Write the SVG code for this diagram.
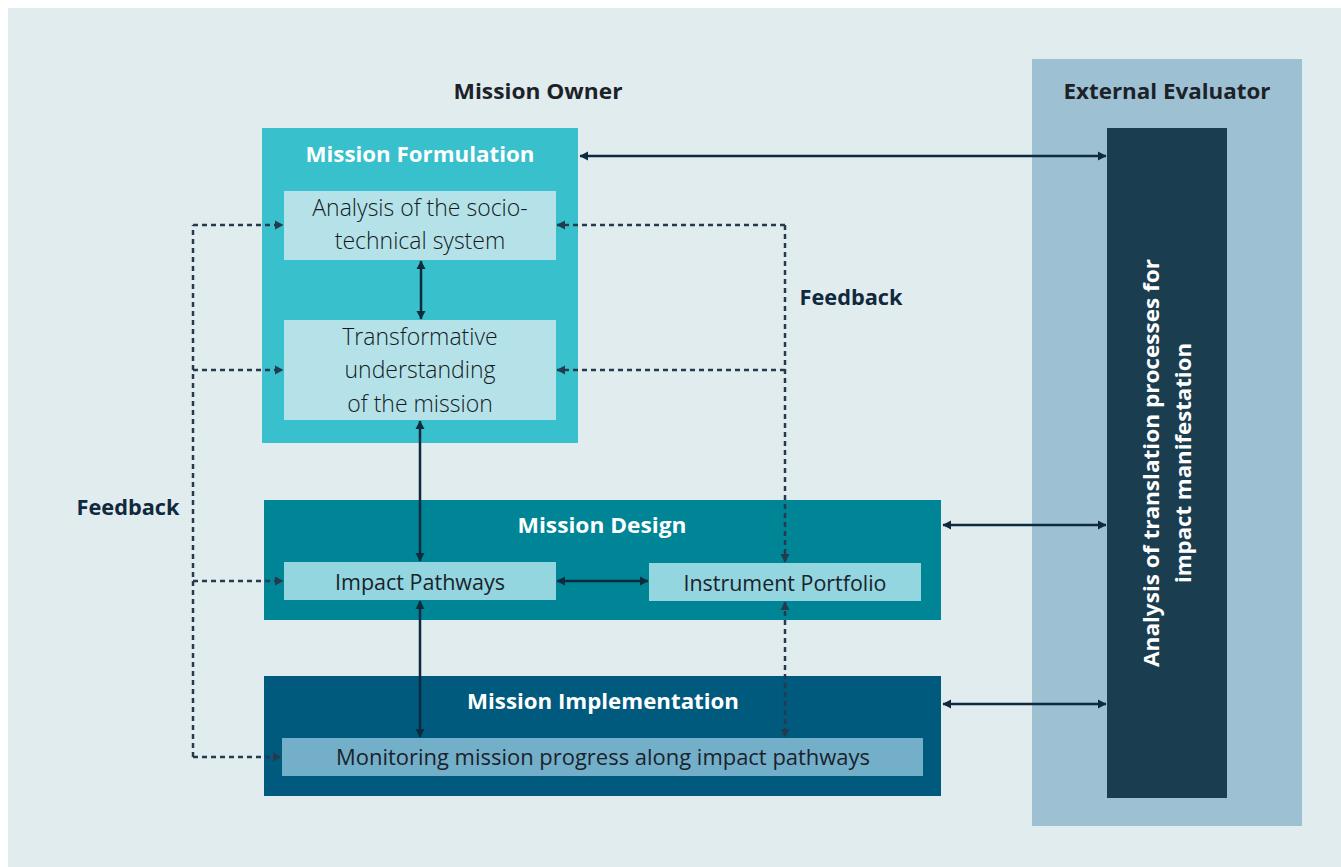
<svg xmlns="http://www.w3.org/2000/svg" width="1341" height="867" viewBox="0 0 1341 867">
<style>
.bold{font-family:"Open Sans","Noto Sans","Liberation Sans",sans-serif;font-weight:700}
.lab{font-family:"Open Sans","Noto Sans","Liberation Sans",sans-serif;font-weight:300;font-size:23px;fill:#141a22;text-anchor:middle}
.cond{font-family:"Open Sans","Noto Sans","Liberation Sans",sans-serif;font-size:21px;fill:#1a222c;text-anchor:middle}
.title{font-size:21px;fill:#ffffff;text-anchor:middle}
.dark{fill:#1d2128;font-size:21px;text-anchor:middle}
.fb{fill:#10293e;font-size:21px;text-anchor:middle}
.solid{stroke:#0e2a3e;stroke-width:2.5;fill:none}
.dash{stroke:#263a4e;stroke-width:2.5;fill:none;stroke-dasharray:5 4}
</style>
<defs>
<marker id="ah" markerWidth="10" markerHeight="10" viewBox="0 0 10 10" refX="9" refY="5" orient="auto-start-reverse" markerUnits="userSpaceOnUse">
<path d="M1,0.5 L9.5,5 L1,9.5 Z" fill="#0e2a3e"/>
</marker>
<marker id="ahd" markerWidth="10" markerHeight="10" viewBox="0 0 10 10" refX="9" refY="5" orient="auto-start-reverse" markerUnits="userSpaceOnUse">
<path d="M1,0.5 L9.5,5 L1,9.5 Z" fill="#263a4e"/>
</marker>
</defs>
<rect x="0" y="0" width="1341" height="867" fill="#ffffff"/>
<rect x="8" y="8" width="1333" height="859" fill="#e1ecee"/>

<g id="external-evaluator">
<rect x="1032" y="59" width="270" height="767" fill="#9dc1d3"/>
<text class="bold dark" x="1167" y="99" textLength="207" lengthAdjust="spacingAndGlyphs">External Evaluator</text>
</g>
<g id="translation-analysis">
<rect x="1107" y="128" width="120" height="670" fill="#1b3d50"/>
<text class="bold" font-size="22" fill="#ffffff" text-anchor="middle" transform="translate(1159,463) rotate(-90)" textLength="408" lengthAdjust="spacingAndGlyphs">Analysis of translation processes for</text>
<text class="bold" font-size="22" fill="#ffffff" text-anchor="middle" transform="translate(1191,463) rotate(-90)" textLength="240" lengthAdjust="spacingAndGlyphs">impact manifestation</text>
</g>

<g id="mission-owner-label">
<text class="bold dark" x="538" y="99" textLength="169" lengthAdjust="spacingAndGlyphs">Mission Owner</text>
</g>

<g id="mission-formulation">
<rect x="262" y="128" width="316" height="315" fill="#38c0cc"/>
<text class="bold title" x="420" y="162" textLength="229" lengthAdjust="spacingAndGlyphs">Mission Formulation</text>
</g>
<g id="analysis-socio-technical">
<rect x="284" y="191" width="272" height="69" fill="#b5e2e9"/>
<text class="lab" x="420" y="216">Analysis of the socio-</text>
<text class="lab" x="420" y="249">technical system</text>
</g>
<g id="transformative-understanding">
<rect x="284" y="320" width="272" height="100" fill="#b5e2e9"/>
<text class="lab" x="420" y="345">Transformative</text>
<text class="lab" x="420" y="378">understanding</text>
<text class="lab" x="420" y="412">of the mission</text>
</g>

<g id="mission-design">
<rect x="264" y="500" width="677" height="120" fill="#008597"/>
<text class="bold title" x="602" y="533" textLength="169" lengthAdjust="spacingAndGlyphs">Mission Design</text>
</g>
<g id="impact-pathways">
<rect x="284" y="562" width="272" height="38" fill="#93d6df"/>
<text class="cond" x="420" y="590" textLength="170" lengthAdjust="spacingAndGlyphs">Impact Pathways</text>
</g>
<g id="instrument-portfolio">
<rect x="649" y="563" width="272" height="38" fill="#93d6df"/>
<text class="cond" x="785" y="591" textLength="203" lengthAdjust="spacingAndGlyphs">Instrument Portfolio</text>
</g>

<g id="mission-implementation">
<rect x="264" y="676" width="677" height="120" fill="#005a7e"/>
<text class="bold title" x="603" y="709" textLength="272" lengthAdjust="spacingAndGlyphs">Mission Implementation</text>
</g>
<g id="monitoring">
<rect x="282" y="738" width="641" height="38" fill="#73afc9"/>
<text class="cond" x="603" y="765" textLength="534" lengthAdjust="spacingAndGlyphs">Monitoring mission progress along impact pathways</text>
</g>

<g id="feedback-labels">
<text class="bold fb" x="128" y="515" textLength="103" lengthAdjust="spacingAndGlyphs">Feedback</text>
<text class="bold fb" x="851" y="305" textLength="103" lengthAdjust="spacingAndGlyphs">Feedback</text>
</g>

<g id="connectors">
<line class="solid" x1="580" y1="156" x2="1106" y2="156" marker-start="url(#ah)" marker-end="url(#ah)"/>
<line class="solid" x1="943" y1="525" x2="1106" y2="525" marker-start="url(#ah)" marker-end="url(#ah)"/>
<line class="solid" x1="943" y1="704" x2="1106" y2="704" marker-start="url(#ah)" marker-end="url(#ah)"/>
<line class="solid" x1="421" y1="261" x2="421" y2="319" marker-start="url(#ah)" marker-end="url(#ah)"/>
<line class="solid" x1="420" y1="421" x2="420" y2="561" marker-start="url(#ah)" marker-end="url(#ah)"/>
<line class="solid" x1="420" y1="601" x2="420" y2="737" marker-start="url(#ah)" marker-end="url(#ah)"/>
<line class="solid" x1="557" y1="581" x2="648" y2="581" marker-start="url(#ah)" marker-end="url(#ah)"/>

<path class="dash" d="M193,757 V225"/>
<line class="dash" x1="193" y1="225" x2="283" y2="225" marker-end="url(#ahd)"/>
<line class="dash" x1="193" y1="370" x2="283" y2="370" marker-end="url(#ahd)"/>
<line class="dash" x1="193" y1="581" x2="283" y2="581" marker-end="url(#ahd)"/>
<line class="dash" x1="193" y1="757" x2="281" y2="757" marker-end="url(#ahd)"/>

<path class="dash" d="M785,225 V562" marker-end="url(#ahd)"/>
<line class="dash" x1="785" y1="225" x2="557" y2="225" marker-end="url(#ahd)"/>
<line class="dash" x1="785" y1="370" x2="557" y2="370" marker-end="url(#ahd)"/>
<line class="dash" x1="785" y1="602" x2="785" y2="737" marker-start="url(#ahd)" marker-end="url(#ahd)"/>
</g>
</svg>
